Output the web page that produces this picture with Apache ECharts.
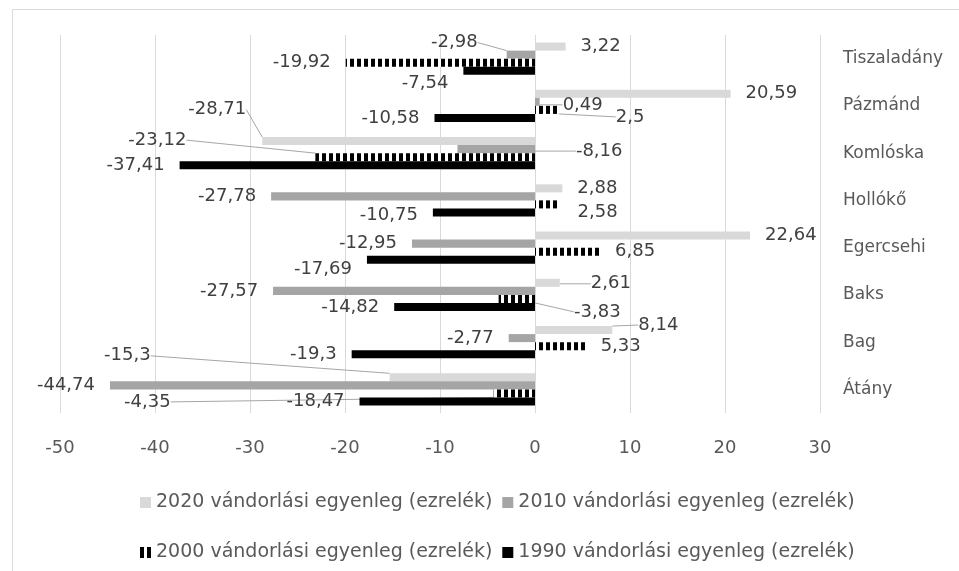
<!DOCTYPE html>
<html><head><meta charset="utf-8">
<script src="https://cdn.jsdelivr.net/npm/echarts/dist/echarts.min.js"></script>
<style>html,body{margin:0;padding:0;background:#fff}#c{width:959px;height:571px}</style>
</head><body><div id="c"></div>
<script>
// ---- data ----
const categories = ['Átány', 'Bag', 'Baks', 'Egercsehi', 'Hollókő', 'Komlóska', 'Pázmánd', 'Tiszaladány'];
const seriesNames = [
  '2020 vándorlási egyenleg (ezrelék)',
  '2010 vándorlási egyenleg (ezrelék)',
  '2000 vándorlási egyenleg (ezrelék)',
  '1990 vándorlási egyenleg (ezrelék)'
];
const v2020 = [-15.3, 8.14, 2.61, 22.64, 2.88, -28.71, 20.59, 3.22];
const v2010 = [-44.74, -2.77, -27.57, -12.95, -27.78, -8.16, 0.49, -2.98];
const v2000 = [-4.35, 5.33, -3.83, 6.85, 2.58, -23.12, 2.5, -19.92];
const v1990 = [-18.47, -19.3, -14.82, -17.69, -10.75, -37.41, -10.58, -7.54];
const xMin = -50, xMax = 30, xStep = 10;

// ---- label nudges (dx, dy, leader line) per series, per category ----
const nudge2020 = [[-224, -21.5, 1], [11, -5, 1], [16, 1, 1], null, null, [-1, -31.5, 1], null, null];
const nudge2010 = [null, null, null, null, null, [180, 2, 1], [8, 3, 1], [-14, -12, 1]];
const nudge2000 = [[-308, 8.5, 1], null, [137, 13, 1], null, [3, 8, 0], [-114, -17, 1], [42, 7, 1], null];
const nudge1990 = [null, null, null, [0, 9.5, 0], [0, 3, 0], null, null, [0, 13, 0]];
const nudges = [nudge2020, nudge2010, nudge2000, nudge1990];
const values = [v2020, v2010, v2000, v1990];

// ---- styles ----
const FONT = 'DejaVu Sans';
const stripe = document.createElement('canvas');
stripe.width = 7; stripe.height = 8;
(function(){ const g = stripe.getContext('2d'); g.fillStyle = '#fff'; g.fillRect(0,0,7,8); g.fillStyle = '#000'; g.fillRect(0,0,4,8); })();
const colors = ['#d9d9d9', '#a5a5a5', {image: stripe, repetition: 'repeat'}, '#000000'];

function fmt(v){ return String(v).replace('.', ','); }

const series = values.map(function(vals, si){
  return {
    name: seriesNames[si],
    type: 'bar',
    barGap: '0%',
    barCategoryGap: '32%',
    itemStyle: {color: colors[si]},
    label: {
      show: true,
      distance: 15,
      color: '#404040',
      fontFamily: FONT,
      fontSize: 18,
      formatter: function(p){ return fmt(p.value); }
    },
    labelLine: {show: false, lineStyle: {color: '#a6a6a6', width: 1}},
    labelLayout: function(p){
      const m = nudges[p.seriesIndex][p.dataIndex];
      return m ? {dx: m[0], dy: m[1]} : {};
    },
    data: vals.map(function(v, ci){
      const m = nudges[si][ci];
      return {
        value: v,
        label: {position: v >= 0 ? 'right' : 'left'},
        labelLine: {show: !!(m && m[2])}
      };
    })
  };
});

const chart = echarts.init(document.getElementById('c'), null, {renderer: 'canvas'});
chart.setOption({
  animation: false,
  backgroundColor: '#ffffff',
  graphic: [{
    type: 'rect', silent: true, z: -1,
    shape: {x: 12.5, y: 9.5, width: 1000, height: 700},
    style: {fill: 'none', stroke: '#d9d9d9', lineWidth: 1}
  }],
  grid: {left: 60, right: 139, top: 35, bottom: 158, containLabel: false},
  legend: [{
    data: seriesNames.slice(0, 2),
    left: 135, top: 488,
    itemWidth: 11, itemHeight: 11, itemGap: 10,
    icon: 'rect',
    textStyle: {color: '#595959', fontFamily: FONT, fontSize: 19}
  }, {
    data: seriesNames.slice(2, 4),
    left: 135, top: 538,
    itemWidth: 11, itemHeight: 11, itemGap: 10,
    icon: 'rect',
    textStyle: {color: '#595959', fontFamily: FONT, fontSize: 19}
  }],
  xAxis: {
    type: 'value', min: xMin, max: xMax, interval: xStep,
    axisLine: {show: false}, axisTick: {show: false},
    splitLine: {lineStyle: {color: '#d9d9d9', width: 1}},
    axisLabel: {color: '#595959', fontFamily: FONT, fontSize: 18, margin: 26}
  },
  yAxis: {
    type: 'category', data: categories, position: 'right',
    axisLine: {show: false, onZero: false}, axisTick: {show: false},
    axisLabel: {color: '#595959', fontFamily: FONT, fontSize: 17, margin: 23, align: 'left'}
  },
  series: series
});
</script>
</body></html>
